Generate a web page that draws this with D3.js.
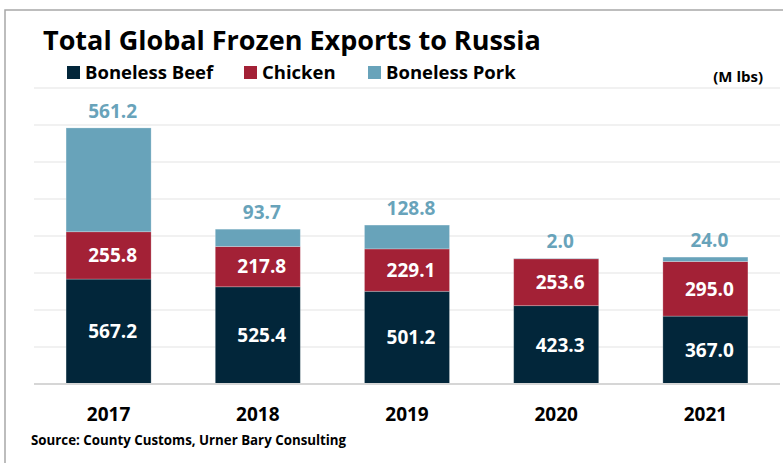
<!DOCTYPE html>
<html>
<head>
<meta charset="utf-8">
<script src="https://cdn.jsdelivr.net/npm/d3@7"></script>
<style>
  body{margin:0;background:#fff;}
  text{font-family:"Open Sans",Lato,sans-serif;font-weight:700;}
</style>
</head>
<body>
<div id="chart"></div>
<script>
const years=["2017","2018","2019","2020","2021"];
const beef=[567.2,525.4,501.2,423.3,367.0];
const chicken=[255.8,217.8,229.1,253.6,295.0];
const pork=[561.2,93.7,128.8,2.0,24.0];
const seriesNames=["Boneless Beef","Chicken","Boneless Pork"];
const colors=["#02263a","#a32136","#68a3ba"];
const yTicks=[0,200,400,600,800,1000,1200,1400,1600];

const width=783,height=463;

const svg=d3.select("#chart")
    .append("svg")
    .attr("width",width)
    .attr("height",height);

// outer frame, cut off on right and bottom like the source
svg.append("rect")
    .attr("x",5).attr("y",10)
    .attr("width",900).attr("height",600)
    .attr("fill","none")
    .attr("stroke","#a8a8a8")
    .attr("stroke-width",1.5);

const x=d3.scaleBand()
    .domain(years)
    .range([34,780])
    .paddingInner(0.43)
    .paddingOuter(0.215);

const y=d3.scaleLinear()
    .domain([0,1600])
    .range([384,88]);

// gridlines
svg.append("g")
    .selectAll("line")
    .data(yTicks.slice(1))
    .enter()
    .append("line")
    .attr("x1",34).attr("x2",780)
    .attr("y1",d=>y(d)).attr("y2",d=>y(d))
    .attr("stroke","#ececec")
    .attr("stroke-width",1.5);

const rows=years.map((yr,i)=>({year:yr,beef:beef[i],chicken:chicken[i],pork:pork[i]}));
const stack=d3.stack().keys(["beef","chicken","pork"]);
const layers=stack(rows);

const g=svg.append("g");
layers.forEach((layer,k)=>{
    g.selectAll(".s"+k)
        .data(layer)
        .enter()
        .append("rect")
        .attr("class","s"+k)
        .attr("x",d=>x(d.data.year))
        .attr("width",x.bandwidth())
        .attr("y",d=>y(d[1]))
        .attr("height",d=>y(d[0])-y(d[1]))
        .attr("fill",colors[k])
        .attr("stroke","rgba(255,255,255,0.3)")
        .attr("stroke-width",0.8);
});

// baseline
svg.append("line")
    .attr("x1",34).attr("x2",780)
    .attr("y1",y(0)).attr("y2",y(0))
    .attr("stroke","#d6d6d6")
    .attr("stroke-width",2);

// inner labels
layers.slice(0,2).forEach(layer=>{
    g.selectAll(null)
        .data(layer)
        .enter()
        .append("text")
        .attr("x",d=>x(d.data.year)+x.bandwidth()/2+4)
        .attr("y",d=>(y(d[0])+y(d[1]))/2)
        .attr("dy","0.36em")
        .attr("text-anchor","middle")
        .attr("fill","#fff")
        .attr("font-size",19)
        .text(d=>(d[1]-d[0]).toFixed(1));
});

// pork labels above
g.selectAll(".porkLabel")
    .data(layers[2])
    .enter()
    .append("text")
    .attr("class","porkLabel")
    .attr("x",d=>x(d.data.year)+x.bandwidth()/2+4)
    .attr("y",d=>y(d[1])-10)
    .attr("text-anchor","middle")
    .attr("fill",colors[2])
    .attr("font-size",19)
    .text(d=>(d[1]-d[0]).toFixed(1));

// x axis labels
const xAxis=svg.append("g")
    .attr("transform","translate(0,"+y(0)+")")
    .call(d3.axisBottom(x).tickSize(0).tickPadding(24));
xAxis.select(".domain").remove();
xAxis.selectAll("text")
    .attr("font-size",19)
    .attr("font-family","'Open Sans', sans-serif")
    .attr("font-weight",700)
    .attr("fill","#000");

// title
svg.append("text")
    .attr("x",43).attr("y",50)
    .attr("font-size",27)
    .attr("fill","#000")
    .text("Total Global Frozen Exports to Russia");

// legend
const legendX=[67,244,368];
const legend=svg.append("g");
seriesNames.forEach((name,i)=>{
    legend.append("rect")
        .attr("x",legendX[i]).attr("y",66)
        .attr("width",13).attr("height",13)
        .attr("fill",colors[i]);
    legend.append("text")
        .attr("x",legendX[i]+18).attr("y",79)
        .attr("font-size",18.5)
        .attr("fill","#000")
        .text(name);
});

svg.append("text")
    .attr("x",763).attr("y",82)
    .attr("text-anchor","end")
    .attr("font-size",15)
    .attr("fill","#000")
    .text("(M lbs)");

svg.append("text")
    .attr("x",31).attr("y",445)
    .attr("font-size",13.3)
    .attr("fill","#000")
    .text("Source: County Customs, Urner Bary Consulting");
</script>
</body>
</html>
